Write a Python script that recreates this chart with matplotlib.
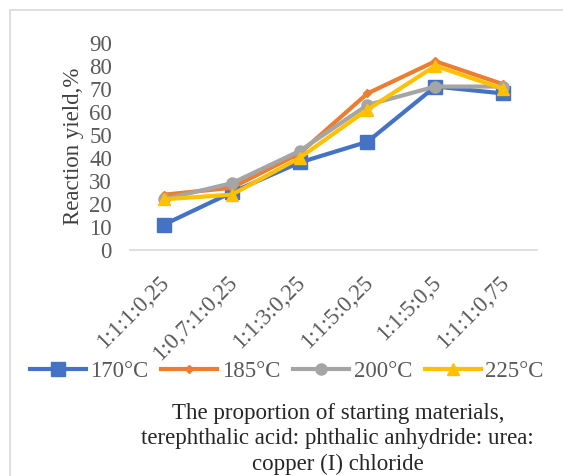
import matplotlib.pyplot as plt
from matplotlib.patches import Rectangle
from matplotlib.transforms import ScaledTranslation
import numpy as np

# proportions (x categories)
ratios = ['1:1:1:0,25', '1:0,7:1:0,25', '1:1:3:0,25', '1:1:5:0,25', '1:1:5:0,5', '1:1:1:0,75']

# reaction yield, % at each temperature
yield_170 = [11, 25, 38, 47, 71, 68]
yield_185 = [24, 27, 42, 68, 82, 72]
yield_200 = [22, 29, 43, 63, 71, 71]
yield_225 = [22, 24, 40, 61, 80, 70]

series = [
    ('170°C', yield_170, '#4472C4', 's', 9.5),
    ('185°C', yield_185, '#ED7D31', 'D', 4.5),
    ('200°C', yield_200, '#A5A5A5', 'o', 8),
    ('225°C', yield_225, '#FFC000', '^', 9),
]

plt.rcParams['font.family'] = ['Liberation Serif', 'DejaVu Serif']

fig = plt.figure(figsize=(5.63, 4.76), dpi=100)
ax = fig.add_axes([0.231, 0.475, 0.723, 0.435])

x = np.arange(len(ratios))
for name, vals, col, mk, ms in series:
    ax.plot(x, vals, color=col, marker=mk, markersize=ms, linewidth=3, label=name)

ax.set_ylim(0, 90)
ax.set_yticks(range(0, 91, 10))
ax.set_xlim(-0.5, len(ratios) - 0.5)
ax.set_xticks(x)
ax.set_xticklabels(ratios, rotation=45, ha='right', rotation_mode='anchor')

for s in ['top', 'right', 'left']:
    ax.spines[s].set_visible(False)
ax.spines['bottom'].set_color('#D9D9D9')
ax.spines['bottom'].set_linewidth(1.2)
ax.tick_params(axis='both', length=0, colors='#595959')
ax.tick_params(axis='y', labelsize=16.5, pad=13)
ax.tick_params(axis='x', labelsize=16.5, pad=16)

# nudge the slanted labels a bit to the left, like the original
shift = ScaledTranslation(-0.05, 0, fig.dpi_scale_trans)
for lbl in ax.get_xticklabels():
    lbl.set_transform(lbl.get_transform() + shift)

ax.set_ylabel('Reaction yield,%', fontsize=16.5, color='#404040', labelpad=4)

ax.legend(loc='center', bbox_to_anchor=(0.385, -0.585), ncol=4, frameon=False,
          fontsize=16.5, handlelength=2.45, columnspacing=0.55, handletextpad=0.2,
          labelcolor='#595959')

fig.text(0.6, 1 - 439 / 476,
         'The proportion of starting materials,\n'
         'terephthalic acid: phthalic anhydride: urea:\n'
         'copper (I) chloride',
         ha='center', va='center', fontsize=16.5, color='#262626', linespacing=1.28)

# outer chart border
fig.patches.append(Rectangle((10 / 563, -0.01), 1.02, 1 - 10 / 476 + 0.01, transform=fig.transFigure,
                             fill=False, edgecolor='#D9D9D9', linewidth=1.2))

fig.savefig('out.png', dpi=100)
